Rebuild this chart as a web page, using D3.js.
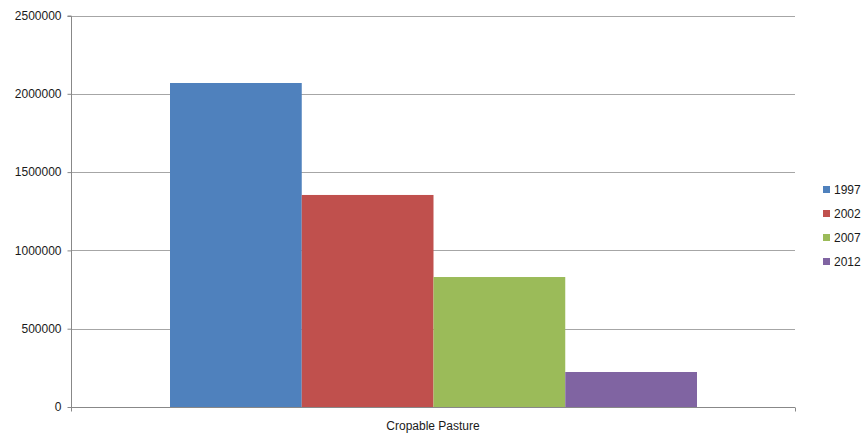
<!DOCTYPE html>
<html>
<head>
<meta charset="utf-8">
<script src="https://cdn.jsdelivr.net/npm/d3@7"></script>
<style>
  html, body { margin: 0; padding: 0; background: #fff; }
  svg { display: block; font-family: "Liberation Sans", Arial, sans-serif; }
</style>
</head>
<body>
<svg id="chart" width="861" height="433"></svg>
<script>
// Cropable pasture by census year
const categories = ["Cropable Pasture"];
const years = ["1997", "2002", "2007", "2012"];
const values = [2069000, 1354000, 830000, 223500];
const colors = ["#4F81BD", "#C0504D", "#9BBB59", "#8064A2"];
const yTicks = [0, 500000, 1000000, 1500000, 2000000, 2500000];

const svg = d3.select("#chart");
const margin = { left: 71, right: 66, top: 15.5, bottom: 26 };
const W = 861, H = 433;
const x0 = margin.left, x1 = W - margin.right;
const y0 = H - margin.bottom, y1 = margin.top;

const y = d3.scaleLinear().domain([0, 2500000]).range([y0, y1]);
const xCat = d3.scaleBand().domain(categories).range([x0, x1]).paddingOuter(0).paddingInner(0);
const xYear = d3.scaleBand().domain(years)
  .range([xCat(categories[0]) + 99, xCat(categories[0]) + xCat.bandwidth() - 98])
  .padding(0);

// horizontal gridlines
svg.append("g")
  .selectAll("line")
  .data(yTicks.filter(d => d > 0))
  .join("line")
  .attr("x1", x0).attr("x2", x1)
  .attr("y1", d => Math.round(y(d)) + 0.5).attr("y2", d => Math.round(y(d)) + 0.5)
  .attr("stroke", "#a6a6a6").attr("stroke-width", 1);

// bars
svg.append("g")
  .selectAll("rect")
  .data(years.map((yr, i) => ({ yr, v: values[i], c: colors[i] })))
  .join("rect")
  .attr("x", d => xYear(d.yr))
  .attr("width", xYear.bandwidth())
  .attr("y", d => y(d.v))
  .attr("height", d => y0 - y(d.v))
  .attr("fill", d => d.c);

// y axis
const yAxis = svg.append("g")
  .attr("transform", `translate(${x0 + 0.5},0)`)
  .call(d3.axisLeft(y).tickValues(yTicks).tickSize(4).tickPadding(6).tickFormat(d3.format("d")));
yAxis.select(".domain").attr("stroke", "#888").attr("d", `M-4,${Math.round(y1)+0.5}H0V${y0 + 4}`);
yAxis.selectAll(".tick line").attr("stroke", "#888");
yAxis.selectAll(".tick text").attr("font-size", 12).attr("fill", "#1a1a1a")
  .attr("font-family", "Liberation Sans, Arial, sans-serif");

// x axis
const xg = svg.append("g").attr("transform", `translate(0,${Math.round(y0) + 0.5})`);
xg.append("line").attr("x1", x0).attr("x2", x1).attr("stroke", "#888");
xg.selectAll("line.tk").data([x0, x1]).join("line").attr("class", "tk")
  .attr("x1", d => d + 0.5).attr("x2", d => d + 0.5).attr("y1", 0).attr("y2", 4).attr("stroke", "#888");
xg.selectAll("text").data(categories).join("text")
  .attr("x", d => xCat(d) + xCat.bandwidth() / 2)
  .attr("y", 22)
  .attr("text-anchor", "middle")
  .attr("font-size", 12)
  .attr("fill", "#1a1a1a")
  .text(d => d);

// legend
const legend = svg.append("g").attr("transform", "translate(823,186)");
const items = legend.selectAll("g").data(years).join("g")
  .attr("transform", (d, i) => `translate(0,${i * 24})`);
items.append("rect").attr("width", 7).attr("height", 7).attr("fill", (d, i) => colors[i]);
items.append("text").attr("x", 11).attr("y", 8).attr("font-size", 12).attr("fill", "#1a1a1a").text(d => d);
</script>
</body>
</html>
